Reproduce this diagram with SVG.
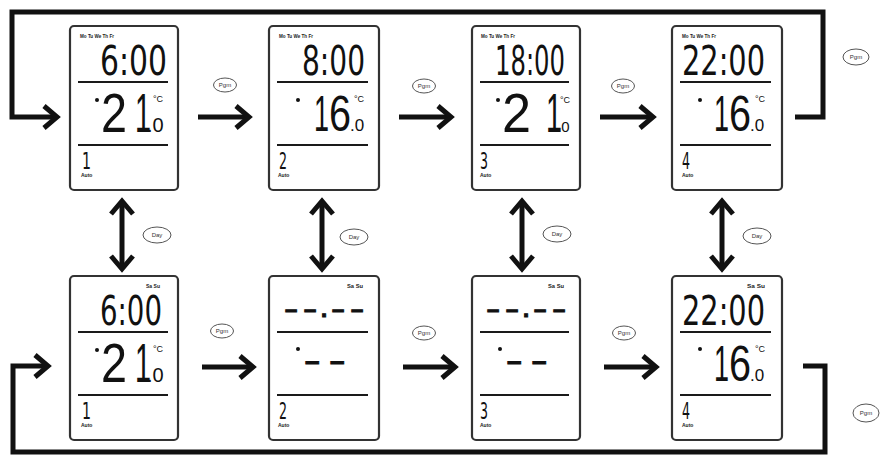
<svg xmlns="http://www.w3.org/2000/svg" width="881" height="459" viewBox="0 0 881 459">
<style>
.frame{fill:#fff;stroke:#333;stroke-width:2.2}
.sep{stroke:#1a1a1a;stroke-width:2}
.days,.auto{font-family:"Liberation Sans",Arial,sans-serif;font-weight:bold;font-size:5px;fill:#222}
.lcd{font-family:"DejaVu Sans Condensed","Liberation Sans Narrow","Liberation Sans",sans-serif;fill:#111}
.tmp{font-family:"Liberation Sans",Arial,sans-serif;fill:#111}
.time{font-size:40px}
.big{font-size:55px}
.mid{font-size:50px}
.dec{font-size:20px}
.dec2{font-size:17px}
.deg{font-size:9px}
.prog{font-size:23px}
.dash{font-family:"Liberation Sans",Arial,sans-serif;font-weight:bold;font-size:22px;fill:#111;stroke:#111;stroke-width:1}
.dash2{font-size:26px}
.dot{fill:#111}
.conn{fill:none;stroke:#111;stroke-width:5;stroke-linejoin:miter}
.btn{fill:#fff;stroke:#555;stroke-width:1}
.btnt{font-family:"Liberation Sans",Arial,sans-serif;font-size:6px;fill:#333;text-anchor:middle}
</style>
<defs>
<marker id="head" markerUnits="userSpaceOnUse" viewBox="0 0 22 28" markerWidth="22" markerHeight="28" refX="16" refY="14" orient="auto-start-reverse" overflow="visible">
<path d="M3,3 L16,14 L3,25" fill="none" stroke="#111" stroke-width="5"/>
</marker>
</defs>

<g id="connectors">
<path class="conn" d="M795,117 H823 V12 H12 V117 H57" marker-end="url(#head)"/>
<path class="conn" d="M803,366 H825 V452 H13 V366 H48" marker-end="url(#head)"/>
<path class="conn" d="M198,117 H249" marker-end="url(#head)"/>
<path class="conn" d="M399,117 H451" marker-end="url(#head)"/>
<path class="conn" d="M600,117 H653" marker-end="url(#head)"/>
<path class="conn" d="M202,367 H253" marker-end="url(#head)"/>
<path class="conn" d="M403,367 H455" marker-end="url(#head)"/>
<path class="conn" d="M604,367 H656" marker-end="url(#head)"/>
<path class="conn" d="M122,201 V269" marker-start="url(#head)" marker-end="url(#head)"/>
<path class="conn" d="M322,201 V269" marker-start="url(#head)" marker-end="url(#head)"/>
<path class="conn" d="M522,201 V269" marker-start="url(#head)" marker-end="url(#head)"/>
<path class="conn" d="M722,201 V269" marker-start="url(#head)" marker-end="url(#head)"/>
<g id="labels">
<ellipse class="btn" cx="225" cy="85" rx="11.5" ry="7"/><text class="btnt" x="225" y="87">Pgm</text>
<ellipse class="btn" cx="424" cy="86" rx="11.5" ry="7"/><text class="btnt" x="424" y="88">Pgm</text>
<ellipse class="btn" cx="623" cy="86" rx="11.5" ry="7"/><text class="btnt" x="623" y="88">Pgm</text>
<ellipse class="btn" cx="856" cy="57" rx="13" ry="8"/><text class="btnt" x="856" y="59">Pgm</text>
<ellipse class="btn" cx="222" cy="331" rx="11.5" ry="7"/><text class="btnt" x="222" y="333">Pgm</text>
<ellipse class="btn" cx="424" cy="333" rx="11.5" ry="7"/><text class="btnt" x="424" y="335">Pgm</text>
<ellipse class="btn" cx="624" cy="333" rx="11.5" ry="7"/><text class="btnt" x="624" y="335">Pgm</text>
<ellipse class="btn" cx="866" cy="413" rx="13" ry="9"/><text class="btnt" x="866" y="415">Pgm</text>
<ellipse class="btn" cx="157" cy="235" rx="14" ry="8"/><text class="btnt" x="157" y="237">Day</text>
<ellipse class="btn" cx="354" cy="237" rx="14" ry="8"/><text class="btnt" x="354" y="239">Day</text>
<ellipse class="btn" cx="557" cy="234" rx="14" ry="8"/><text class="btnt" x="557" y="236">Day</text>
<ellipse class="btn" cx="757" cy="236" rx="14" ry="8"/><text class="btnt" x="757" y="238">Day</text>
</g>
</g>

<g id="p1" transform="translate(70,26)">
<rect class="frame" x="0" y="0" width="108" height="164" rx="4"/>
<text><tspan class="days" x="10" y="12" textLength="34" lengthAdjust="spacingAndGlyphs">Mo Tu We Th Fr</tspan><tspan class="lcd time" x="30" y="49" textLength="67" lengthAdjust="spacingAndGlyphs">6:00</tspan></text>
<line class="sep" x1="8" y1="56" x2="98" y2="56"/>
<circle class="dot" cx="27" cy="74" r="2"/>
<text class="tmp"><tspan class="big" x="31" y="106" textLength="26" lengthAdjust="spacingAndGlyphs">2</tspan><tspan class="big" x="65" y="106" textLength="16" lengthAdjust="spacingAndGlyphs">1</tspan><tspan class="dec" x="77" y="106">.0</tspan><tspan class="deg" x="83" y="76">°C</tspan></text>
<line class="sep" x1="8" y1="119" x2="98" y2="119"/>
<text><tspan class="lcd prog" x="12" y="143" textLength="9" lengthAdjust="spacingAndGlyphs">1</tspan><tspan class="auto" x="11" y="151">Auto</tspan></text>
</g>

<g id="p2" transform="translate(269,26)">
<rect class="frame" x="0" y="0" width="110" height="164" rx="4"/>
<text><tspan class="days" x="10" y="12" textLength="34" lengthAdjust="spacingAndGlyphs">Mo Tu We Th Fr</tspan><tspan class="lcd time" x="33" y="49" textLength="63" lengthAdjust="spacingAndGlyphs">8:00</tspan></text>
<line class="sep" x1="8" y1="56" x2="99" y2="56"/>
<circle class="dot" cx="29" cy="74" r="2"/>
<text class="tmp"><tspan class="mid" x="45" y="105" textLength="15" lengthAdjust="spacingAndGlyphs">1</tspan><tspan class="mid" x="60" y="105" textLength="22" lengthAdjust="spacingAndGlyphs">6</tspan><tspan class="dec2" x="81" y="105">.0</tspan><tspan class="deg" x="85" y="76">°C</tspan></text>
<line class="sep" x1="8" y1="119" x2="99" y2="119"/>
<text><tspan class="lcd prog" x="10" y="143" textLength="8" lengthAdjust="spacingAndGlyphs">2</tspan><tspan class="auto" x="9" y="151">Auto</tspan></text>
</g>

<g id="p3" transform="translate(472,26)">
<rect class="frame" x="0" y="0" width="108" height="164" rx="4"/>
<text><tspan class="days" x="9" y="12" textLength="34" lengthAdjust="spacingAndGlyphs">Mo Tu We Th Fr</tspan><tspan class="lcd time" x="23" y="49" textLength="70" lengthAdjust="spacingAndGlyphs">18:00</tspan></text>
<line class="sep" x1="8" y1="56" x2="97" y2="56"/>
<circle class="dot" cx="26" cy="74" r="2"/>
<text class="tmp"><tspan class="big" x="30" y="106" textLength="29" lengthAdjust="spacingAndGlyphs">2</tspan><tspan class="big" x="74" y="106" textLength="16" lengthAdjust="spacingAndGlyphs">1</tspan><tspan class="dec2" x="85" y="106" style="font-size:15px">.0</tspan><tspan class="deg" x="88" y="77">°C</tspan></text>
<line class="sep" x1="8" y1="119" x2="97" y2="119"/>
<text><tspan class="lcd prog" x="8" y="143" textLength="8" lengthAdjust="spacingAndGlyphs">3</tspan><tspan class="auto" x="8" y="151">Auto</tspan></text>
</g>

<g id="p4" transform="translate(672,26)">
<rect class="frame" x="0" y="0" width="110" height="164" rx="4"/>
<text><tspan class="days" x="10" y="12" textLength="34" lengthAdjust="spacingAndGlyphs">Mo Tu We Th Fr</tspan><tspan class="lcd time" x="10" y="49" textLength="83" lengthAdjust="spacingAndGlyphs">22:00</tspan></text>
<line class="sep" x1="8" y1="56" x2="99" y2="56"/>
<circle class="dot" cx="28" cy="74" r="2"/>
<text class="tmp"><tspan class="mid" x="42" y="105" textLength="15" lengthAdjust="spacingAndGlyphs">1</tspan><tspan class="mid" x="57" y="105" textLength="22" lengthAdjust="spacingAndGlyphs">6</tspan><tspan class="dec2" x="78" y="105">.0</tspan><tspan class="deg" x="83" y="76">°C</tspan></text>
<line class="sep" x1="8" y1="119" x2="99" y2="119"/>
<text><tspan class="lcd prog" x="10" y="143" textLength="8" lengthAdjust="spacingAndGlyphs">4</tspan><tspan class="auto" x="10" y="151">Auto</tspan></text>
</g>

<g id="p5" transform="translate(70,276)">
<rect class="frame" x="0" y="0" width="108" height="164" rx="4"/>
<text><tspan class="days" x="76" y="12" textLength="14" lengthAdjust="spacingAndGlyphs">Sa Su</tspan><tspan class="lcd time" x="30" y="49" textLength="62" lengthAdjust="spacingAndGlyphs">6:00</tspan></text>
<line class="sep" x1="8" y1="56" x2="98" y2="56"/>
<circle class="dot" cx="27" cy="74" r="2"/>
<text class="tmp"><tspan class="big" x="31" y="106" textLength="26" lengthAdjust="spacingAndGlyphs">2</tspan><tspan class="big" x="65" y="106" textLength="16" lengthAdjust="spacingAndGlyphs">1</tspan><tspan class="dec" x="77" y="106">.0</tspan><tspan class="deg" x="83" y="76">°C</tspan></text>
<line class="sep" x1="8" y1="119" x2="98" y2="119"/>
<text><tspan class="lcd prog" x="12" y="143" textLength="9" lengthAdjust="spacingAndGlyphs">1</tspan><tspan class="auto" x="11" y="151">Auto</tspan></text>
</g>

<g id="p6" transform="translate(269,276)">
<rect class="frame" x="0" y="0" width="110" height="164" rx="4"/>
<text class="days" x="78" y="12" textLength="16" lengthAdjust="spacingAndGlyphs">Sa Su</text>
<text class="dash" x="16 35 52 63 82" y="41">––.––</text>
<line class="sep" x1="8" y1="56" x2="99" y2="56"/>
<circle class="dot" cx="29" cy="73" r="2"/>
<text class="dash dash2" x="36 61" y="94">––</text>
<line class="sep" x1="8" y1="119" x2="99" y2="119"/>
<text><tspan class="lcd prog" x="10" y="143" textLength="8" lengthAdjust="spacingAndGlyphs">2</tspan><tspan class="auto" x="9" y="151">Auto</tspan></text>
</g>

<g id="p7" transform="translate(472,276)">
<rect class="frame" x="0" y="0" width="108" height="164" rx="4"/>
<text class="days" x="76" y="12" textLength="16" lengthAdjust="spacingAndGlyphs">Sa Su</text>
<text class="dash" x="15 34 51 62 81" y="41">––.––</text>
<line class="sep" x1="8" y1="56" x2="97" y2="56"/>
<circle class="dot" cx="28" cy="73" r="2"/>
<text class="dash dash2" x="35 60" y="94">––</text>
<line class="sep" x1="8" y1="119" x2="97" y2="119"/>
<text><tspan class="lcd prog" x="8" y="143" textLength="8" lengthAdjust="spacingAndGlyphs">3</tspan><tspan class="auto" x="8" y="151">Auto</tspan></text>
</g>

<g id="p8" transform="translate(672,276)">
<rect class="frame" x="0" y="0" width="110" height="164" rx="4"/>
<text><tspan class="days" x="75" y="12" textLength="18" lengthAdjust="spacingAndGlyphs">Sa Su</tspan><tspan class="lcd time" x="10" y="49" textLength="83" lengthAdjust="spacingAndGlyphs">22:00</tspan></text>
<line class="sep" x1="8" y1="56" x2="99" y2="56"/>
<circle class="dot" cx="28" cy="73" r="2"/>
<text class="tmp"><tspan class="mid" x="42" y="105" textLength="15" lengthAdjust="spacingAndGlyphs">1</tspan><tspan class="mid" x="57" y="105" textLength="22" lengthAdjust="spacingAndGlyphs">6</tspan><tspan class="dec2" x="78" y="105">.0</tspan><tspan class="deg" x="83" y="76">°C</tspan></text>
<line class="sep" x1="8" y1="119" x2="99" y2="119"/>
<text><tspan class="lcd prog" x="10" y="143" textLength="8" lengthAdjust="spacingAndGlyphs">4</tspan><tspan class="auto" x="10" y="151">Auto</tspan></text>
</g>
</svg>
